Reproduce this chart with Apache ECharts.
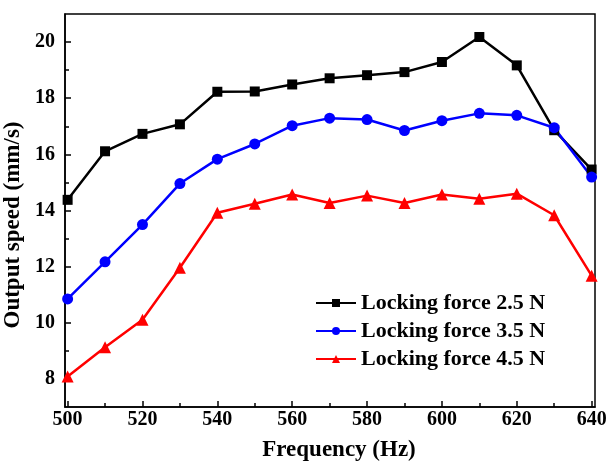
<!DOCTYPE html>
<html>
<head>
<meta charset="utf-8">
<script src="https://cdn.jsdelivr.net/npm/echarts@6/dist/echarts.min.js"></script>
<style>
  html, body { margin: 0; padding: 0; background: #fff; }
  #chart { width: 608px; height: 466px; }
</style>
</head>
<body>
<div id="chart"></div>
<script>
// Excitation frequency (Hz)
const frequencies = [500, 510, 520, 530, 540, 550, 560, 570, 580, 590, 600, 610, 620, 630, 640];

// Output speed (mm/s) for each locking force
const speed25N = [14.38, 16.11, 16.73, 17.07, 18.23, 18.24, 18.49, 18.71, 18.82, 18.93, 19.29, 20.18, 19.17, 16.86, 15.46];
const speed35N = [10.85, 12.17, 13.50, 14.96, 15.83, 16.37, 17.02, 17.29, 17.24, 16.85, 17.20, 17.46, 17.39, 16.95, 15.19];
const speed45N = [8.09, 9.13, 10.11, 11.96, 13.92, 14.24, 14.57, 14.27, 14.53, 14.27, 14.57, 14.42, 14.60, 13.83, 11.68];

const seriesNames = ['Locking force 2.5 N', 'Locking force 3.5 N', 'Locking force 4.5 N'];

// Tick positions
const xLabelTicks = [500, 520, 540, 560, 580, 600, 620, 640];
const xMinorTicks = [510, 530, 550, 570, 590, 610, 630];
const yLabelTicks = [8, 10, 12, 14, 16, 18, 20];
const yMinorTicks = [9, 11, 13, 15, 17, 19];

const FONT = '"Liberation Serif", "Times New Roman", serif';
const X_MIN = 499.3, X_MAX = 640.9, Y_MIN = 7, Y_MAX = 21;

const pairs = vals => frequencies.map((f, i) => [f, vals[i]]);

const chart = echarts.init(document.getElementById('chart'), null, { renderer: 'canvas' });

const baseX = {
  type: 'value', min: X_MIN, max: X_MAX, position: 'bottom',
  splitLine: { show: false }
};
const baseY = {
  type: 'value', min: Y_MIN, max: Y_MAX, position: 'left',
  splitLine: { show: false }
};

chart.setOption({
  animation: false,
  backgroundColor: '#fff',
  grid: {
    left: 65, right: 13, top: 14, bottom: 59,
    containLabel: false, outerBoundsMode: 'none',
    show: true, borderColor: '#000', borderWidth: 1.5, backgroundColor: 'transparent'
  },
  xAxis: [
    Object.assign({}, baseX, {
      name: 'Frequency (Hz)',
      nameLocation: 'middle',
      nameGap: 32,
      nameTextStyle: { fontFamily: FONT, fontWeight: 'bold', fontSize: 23, color: '#000', padding: [0, 0, 0, 18] },
      axisLine: { show: true, lineStyle: { color: '#000', width: 1.5 } },
      axisTick: { show: true, inside: true, length: 6, lineStyle: { color: '#000', width: 1.5 }, customValues: xLabelTicks },
      axisLabel: { show: true, margin: 3, fontFamily: FONT, fontWeight: 'bold', fontSize: 20, color: '#000', customValues: xLabelTicks }
    }),
    Object.assign({}, baseX, {
      axisLine: { show: false },
      axisTick: { show: true, inside: true, length: 4, lineStyle: { color: '#000', width: 1.5 }, customValues: xMinorTicks },
      axisLabel: { show: false }
    })
  ],
  yAxis: [
    Object.assign({}, baseY, {
      name: 'Output speed (mm/s)',
      nameLocation: 'middle',
      nameGap: 35,
      nameTextStyle: { fontFamily: FONT, fontWeight: 'bold', fontSize: 23, color: '#000', padding: [0, 29, 0, 0] },
      axisLine: { show: true, lineStyle: { color: '#000', width: 1.5 } },
      axisTick: { show: true, inside: true, length: 6, lineStyle: { color: '#000', width: 1.5 }, customValues: yLabelTicks },
      axisLabel: { show: true, margin: 10, fontFamily: FONT, fontWeight: 'bold', fontSize: 20, color: '#000', customValues: yLabelTicks }
    }),
    Object.assign({}, baseY, {
      axisLine: { show: false },
      axisTick: { show: true, inside: true, length: 4, lineStyle: { color: '#000', width: 1.5 }, customValues: yMinorTicks },
      axisLabel: { show: false }
    })
  ],
  legend: {
    orient: 'vertical',
    left: 310, top: 287,
    itemWidth: 40, itemHeight: 10, itemGap: 6,
    textStyle: { fontFamily: FONT, fontWeight: 'bold', fontSize: 22, color: '#000', lineHeight: 21 },
    data: seriesNames
  },
  series: [
    {
      name: seriesNames[0], type: 'line', data: pairs(speed25N),
      symbol: 'rect', symbolSize: 10,
      lineStyle: { color: '#000', width: 2.5 }, itemStyle: { color: '#000' }
    },
    {
      name: seriesNames[1], type: 'line', data: pairs(speed35N),
      symbol: 'circle', symbolSize: 11,
      lineStyle: { color: '#0000ff', width: 2.5 }, itemStyle: { color: '#0000ff' }
    },
    {
      name: seriesNames[2], type: 'line', data: pairs(speed45N),
      symbol: 'triangle', symbolSize: 12,
      lineStyle: { color: '#ff0000', width: 2.5 }, itemStyle: { color: '#ff0000' }
    }
  ]
});
</script>
</body>
</html>
